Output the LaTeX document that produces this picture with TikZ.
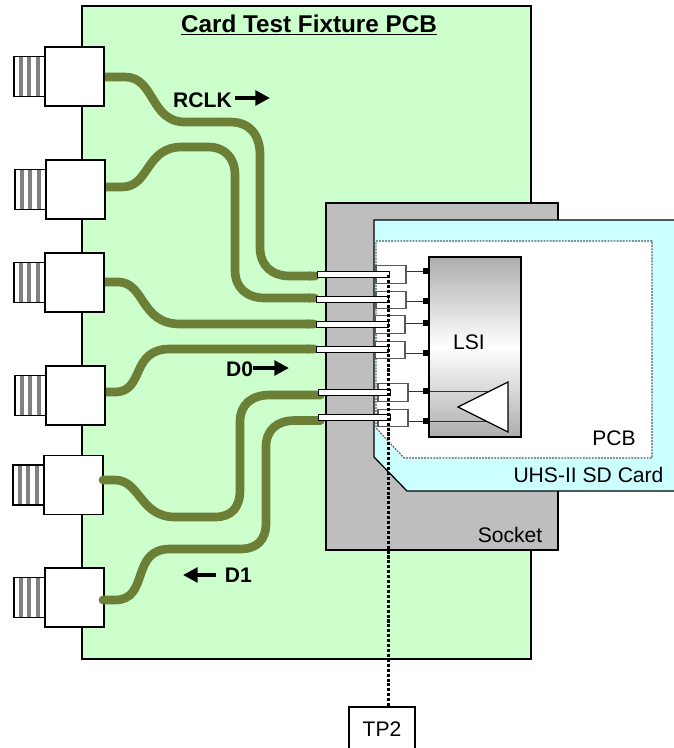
\documentclass[tikz,border=0pt]{standalone}
\usepackage{fontspec}
\setmainfont{Liberation Sans}
\definecolor{fxgreen}{RGB}{204,255,204}
\definecolor{fxcyan}{RGB}{204,255,255}
\definecolor{fxgray}{RGB}{190,190,190}
\definecolor{fxstripe}{RGB}{128,128,128}
\definecolor{fxtrace}{RGB}{107,127,54}
\usetikzlibrary{arrows.meta,positioning,calc}
\pgfdeclarelayer{front}
\pgfsetlayers{main,front}

\begin{document}
\begin{tikzpicture}[x=0.03cm,y=-0.03cm,
  sma/.style={draw=black, fill=white, line width=1.2pt, inner sep=0pt, outer sep=0pt, minimum width=1.77cm, minimum height=1.77cm},
  barrel/.style={draw=black, fill=white, line width=1.2pt, inner sep=0pt, outer sep=0pt, minimum width=0.93cm, minimum height=1.2cm,
    path picture={
      \fill[fxstripe] ($(path picture bounding box.south west)+(5,0)$) rectangle ++(4,-45);
      \fill[fxstripe] ($(path picture bounding box.south west)+(13.3,0)$) rectangle ++(4,-45);
      \fill[fxstripe] ($(path picture bounding box.south west)+(21.6,0)$) rectangle ++(4,-45);
    }},
  trace/.style={draw=fxtrace, line width=7.4pt, line cap=round},
  tracein/.style={draw=fxtrace, line width=7.4pt, line cap=butt, -{Round Cap[]}, shorten <=0.7pt},
  finger/.style={draw=black, fill=white, line width=0.8pt, inner sep=0pt, minimum width=2.16cm, minimum height=0.18cm},
  pin/.style={draw=black!65, fill=white, line width=0.9pt, inner sep=0pt, minimum width=0.9cm, minimum height=0.53cm},
  pad/.style={fill=black, inner sep=0pt, minimum width=0.2cm, minimum height=0.2cm},
  wire/.style={draw=black!80, line width=0.8pt},
  lbl/.style={font=\fontsize{18}{20}\selectfont\bfseries, inner sep=0pt},
  txt/.style={font=\fontsize{18}{20}\selectfont},
  sig/.style={draw=black, line width=3.2pt, -{Triangle[length=12.5pt,width=12.5pt]}}
]
  \useasboundingbox (0,0) rectangle (674,748);

  %% Boards
  \draw[fill=fxgreen, line width=1.1pt] (82,6) rectangle (531,659);
  \node[font=\fontsize{20.7}{24}\selectfont\bfseries] (title) at (309,25) {\underline{Card Test Fixture PCB}};
  \draw[fill=fxgray, line width=1.1pt] (326,203) rectangle (558,550);
  \draw[fill=fxcyan, line width=1.1pt] (680,220) -- (374,220) -- (374,457) -- (407,491) -- (680,491);
  \draw[fill=white, draw=black!65, dash pattern=on 1.6pt off 1pt, line width=0.9pt] (376,241) -- (652,241) -- (652,458) -- (404,458) -- (376,428) -- cycle;

  %% Labels on boards
  \node[txt] (socketlbl) at (510,535) {Socket};
  \node[txt] (cardlbl) at (588.5,475) {UHS-II SD Card};
  \node[txt] (pcblbl) at (614,438) {PCB};

  %% Connectors
  \node[sma] (sma1) at (74.5,76.5) {};
  \node[barrel, left=0pt of sma1] (bar1) {};
  \node[sma] (sma2) at (75.5,189.5) {};
  \node[barrel, left=0pt of sma2] (bar2) {};
  \node[sma] (sma3) at (74.5,282.5) {};
  \node[barrel, left=0pt of sma3] (bar3) {};
  \node[sma] (sma4) at (75.5,395.5) {};
  \node[barrel, left=0pt of sma4] (bar4) {};
  \node[sma] (sma5) at (73.5,485) {};
  \node[barrel, left=0pt of sma5] (bar5) {};
  \node[sma] (sma6) at (74.5,597.5) {};
  \node[barrel, left=0pt of sma6] (bar6) {};

  %% Card contacts
  \node[pin] (pin1) at (391,274.5) {};
  \node[pin] (pin2) at (391,300) {};
  \node[pin] (pin3) at (390,324.5) {};
  \node[pin] (pin4) at (390,350) {};
  \node[pin] (pin5) at (393,392.5) {};
  \node[pin] (pin6) at (393,418) {};

  %% LSI
  \node[draw=black, line width=1.1pt, top color=black!32, bottom color=black!32, middle color=white, inner sep=0pt, minimum width=2.76cm, minimum height=5.4cm] (lsi) at (475,347) {};
  \node[txt] (lsilbl) at (469,342) {LSI};
  \node[pad] (pad1) at (426.5,271) {};
  \node[pad] (pad2) at (426.5,301) {};
  \node[pad] (pad3) at (426.5,323) {};
  \node[pad] (pad4) at (426.5,353) {};
  \node[pad] (pad5) at (426.5,391) {};
  \node[pad] (pad6) at (426.5,421) {};
  \coordinate (amp1) at (495,391);
  \coordinate (amp2) at (495,421);
  \draw[wire] (pin1.east |- pad1) -- (pad1);
  \draw[wire] (pin2.east |- pad2) -- (pad2);
  \draw[wire] (pin3.east |- pad3) -- (pad3);
  \draw[wire] (pin4.east |- pad4) -- (pad4);
  \draw[wire] (pin5.east |- pad5) -- (pad5);
  \draw[wire] (pin6.east |- pad6) -- (pad6);
  \draw[wire] (pad5) -- (amp1);
  \draw[wire] (pad6) -- (amp2);
  \draw[fill=white, line width=1.1pt] (458,407) -- (508,382) -- (508,432) -- cycle;

  %% Traces
  \begin{pgfonlayer}{front}
    \node[finger] (fin1) at (353,274.3) {};
    \node[finger] (fin2) at (352.5,299.7) {};
    \node[finger] (fin3) at (352,324.2) {};
    \node[finger] (fin4) at (352,349) {};
    \node[finger] (fin5) at (354,392.2) {};
    \node[finger] (fin6) at (354,417.5) {};
  \end{pgfonlayer}
  \draw[tracein] (sma1.east |- 0,77) -- (125,77) .. controls (155,77) and (150,122) .. (185,122) -- (230,122) .. controls (250,122) and (260,135) .. (260,155) -- (260,247) .. controls (260,266) and (272,276) .. (290,276) -- ($(fin1.west)+(3,1.7)$);
  \draw[tracein] (sma2.east |- 0,187) -- (122,187) .. controls (150,187) and (145,147) .. (182,147) -- (208,147) .. controls (225,147) and (235,158) .. (235,175) -- (235,270) .. controls (235,288) and (247,298) .. (265,298) -- ($(fin2.west)+(3,-1.7)$);
  \draw[tracein] (sma3.east |- 0,282) -- (118,282) .. controls (145,282) and (140,324) .. (180,324) -- ($(fin3.west)+(3,-0.2)$);
  \draw[tracein] (sma4.east |- 0,392) -- (115,392) .. controls (145,392) and (130,349) .. (170,349) -- ($(fin4.west)+(3,0)$);
  \draw[trace] (103,480) -- (115,480) .. controls (140,480) and (140,517) .. (175,517) -- (215,517) .. controls (232,517) and (240,507) .. (240,490) -- (240,422) .. controls (240,404) and (252,395) .. (270,395) -- ($(fin5.west)+(3,2.8)$);
  \draw[trace] (103,600) -- (115,600) .. controls (150,600) and (130,549) .. (170,549) -- (240,549) .. controls (257,549) and (266,540) .. (266,523) -- (266,447) .. controls (266,430) and (277,420.5) .. (295,420.5) -- ($(fin6.west)+(3,3)$);

  %% Test point
  \node[draw=black, fill=white, line width=1pt, minimum width=1.98cm, minimum height=1.35cm, txt] (tp) at (382,729.5) {TP2};
  \coordinate (probe) at (388.5,275);
  \begin{pgfonlayer}{front}
    \draw[black, dash pattern=on 2.6pt off 1.6pt, line width=1.8pt] (probe) -- (probe |- tp.north);
  \end{pgfonlayer}

  %% Signals
  \node[lbl, anchor=west] (rclk) at (173,100) {RCLK};
  \coordinate (rclkend) at (270,98);
  \draw[sig] ($(rclk.east |- rclkend)+(3,0)$) -- (rclkend);
  \node[lbl, anchor=west] (dzero) at (226,369) {D0};
  \coordinate (dzeroend) at (289,368);
  \draw[sig] (dzero.east |- dzeroend) -- (dzeroend);
  \node[lbl, anchor=east] (done) at (252,575) {D1};
  \coordinate (doneend) at (183,575);
  \draw[sig] ($(done.west)+(-9,0)$) -- (doneend);
\end{tikzpicture}
\end{document}
